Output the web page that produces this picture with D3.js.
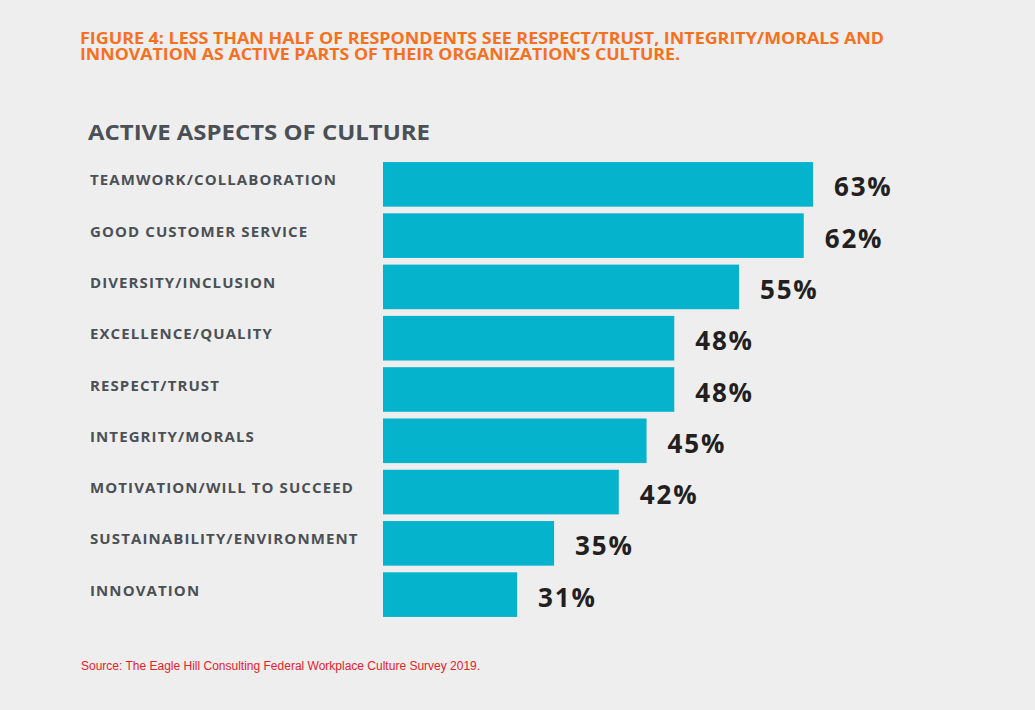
<!DOCTYPE html>
<html>
<head>
<meta charset="utf-8">
<script src="https://cdn.jsdelivr.net/npm/d3@7"></script>
<style>
  body { margin: 0; background: #eeeeee; }
  svg { display: block; }
</style>
</head>
<body>
<svg id="chart" width="1035" height="710"></svg>
<script>
let categories = [
    'TEAMWORK/COLLABORATION',
    'GOOD CUSTOMER SERVICE',
    'DIVERSITY/INCLUSION',
    'EXCELLENCE/QUALITY',
    'RESPECT/TRUST',
    'INTEGRITY/MORALS',
    'MOTIVATION/WILL TO SUCCEED',
    'SUSTAINABILITY/ENVIRONMENT',
    'INNOVATION'
]
let values = [63, 62, 55, 48, 48, 45, 42, 35, 31]

let titleLines = [
    'FIGURE 4: LESS THAN HALF OF RESPONDENTS SEE RESPECT/TRUST, INTEGRITY/MORALS AND',
    'INNOVATION AS ACTIVE PARTS OF THEIR ORGANIZATION\u2019S CULTURE.'
]
let subtitle = 'ACTIVE ASPECTS OF CULTURE'
let source = 'Source: The Eagle Hill Consulting Federal Workplace Culture Survey 2019.'

let svg = d3.select('#chart')

svg.append('rect')
    .attr('width', 1035)
    .attr('height', 710)
    .attr('fill', '#eeeeee')

// the bars in the original don't start from zero
let x = d3.scaleLinear()
    .domain([16.5, 63])
    .range([383, 813])

let y = d3.scaleBand()
    .domain(categories)
    .range([160, 619])
    .paddingInner(0.13)
    .paddingOuter(0.04)

// heading
let titleWidths = [804, 600]
svg.selectAll('.title')
    .data(titleLines)
    .enter()
    .append('text')
    .attr('class', 'title')
    .attr('x', 80)
    .attr('y', (d, i) => 43.5 + i * 16.5)
    .attr('textLength', (d, i) => titleWidths[i])
    .attr('lengthAdjust', 'spacingAndGlyphs')
    .attr('fill', '#f7701d')
    .style('font-family', '"Open Sans", sans-serif')
    .style('font-weight', 700)
    .style('font-size', '15.5px')
    .text(d => d)

svg.append('text')
    .attr('x', 88)
    .attr('y', 140)
    .attr('textLength', 342)
    .attr('lengthAdjust', 'spacingAndGlyphs')
    .attr('fill', '#4b5056')
    .style('font-family', '"Open Sans", sans-serif')
    .style('font-weight', 700)
    .style('font-size', '21px')
    .text(subtitle)

// bars
svg.selectAll('.bar')
    .data(values)
    .enter()
    .append('rect')
    .attr('class', 'bar')
    .attr('x', x.range()[0])
    .attr('y', (d, i) => y(categories[i]))
    .attr('width', d => x(d) - x.range()[0])
    .attr('height', y.bandwidth())
    .attr('fill', '#05b4cc')

// category labels
svg.selectAll('.label')
    .data(categories)
    .enter()
    .append('text')
    .attr('class', 'label')
    .attr('x', 90)
    .attr('y', d => y(d) + y.bandwidth() / 2 + 1)
    .attr('fill', '#4b5056')
    .style('font-family', '"Open Sans", sans-serif')
    .style('font-weight', 700)
    .style('font-size', '15px')
    .style('letter-spacing', '1.1px')
    .text(d => d)

// value labels
svg.selectAll('.value')
    .data(values)
    .enter()
    .append('text')
    .attr('class', 'value')
    .attr('x', d => x(d) + 21)
    .attr('y', (d, i) => y(categories[i]) + y.bandwidth() / 2 + 12)
    .attr('fill', '#231f20')
    .style('font-family', '"Open Sans", sans-serif')
    .style('font-weight', 700)
    .style('font-size', '26px')
    .style('letter-spacing', '1.8px')
    .text(d => d + '%')

svg.append('text')
    .attr('x', 81)
    .attr('y', 670)
    .attr('fill', '#e8202a')
    .style('font-family', '"Liberation Sans", Arial, sans-serif')
    .style('font-size', '12px')
    .text(source)
</script>
</body>
</html>
